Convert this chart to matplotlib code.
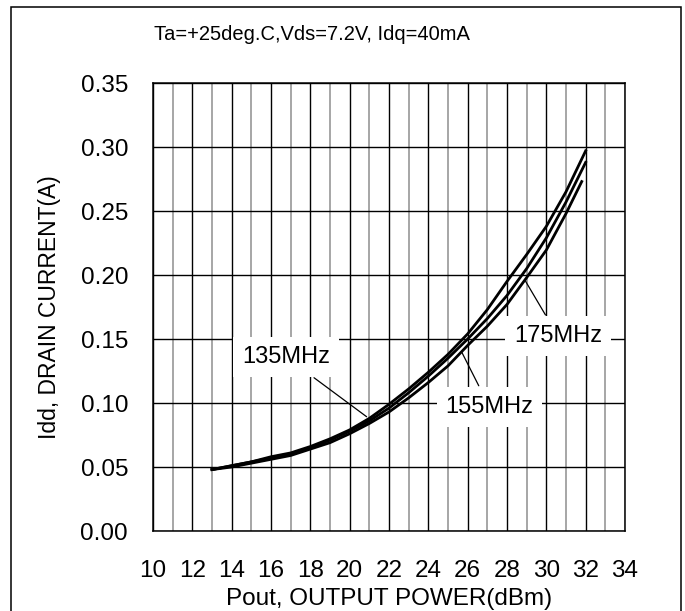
import matplotlib
matplotlib.use('Agg')
import matplotlib.pyplot as plt
from matplotlib.patches import Rectangle

plt.rcParams['font.family'] = ['Liberation Sans', 'DejaVu Sans']

# Pout (dBm)
pout = [13, 14, 15, 16, 17, 18, 19, 20, 21, 22, 23, 24, 25, 26, 27, 28, 29, 30, 31, 32]
pout_175 = [13, 14, 15, 16, 17, 18, 19, 20, 21, 22, 23, 24, 25, 26, 27, 28, 29, 30, 31, 31.8]

# Idd (A)
idd_135 = [0.048, 0.051, 0.054, 0.058, 0.061, 0.066, 0.072, 0.079, 0.088, 0.099,
           0.111, 0.124, 0.138, 0.154, 0.173, 0.195, 0.216, 0.238, 0.265, 0.297]
idd_155 = [0.048, 0.051, 0.054, 0.057, 0.060, 0.065, 0.071, 0.078, 0.086, 0.096,
           0.108, 0.121, 0.135, 0.150, 0.166, 0.184, 0.205, 0.229, 0.257, 0.288]
idd_175 = [0.048, 0.050, 0.053, 0.056, 0.059, 0.064, 0.069, 0.076, 0.084, 0.093,
           0.104, 0.116, 0.129, 0.145, 0.160, 0.177, 0.198, 0.2195, 0.248, 0.273]

x_ticks = list(range(10, 35, 2))
y_ticks = [0.00, 0.05, 0.10, 0.15, 0.20, 0.25, 0.30, 0.35]

fig = plt.figure(figsize=(6.85, 6.11), dpi=100)
ax = fig.add_axes([153 / 685, 1 - 531 / 611, 472 / 685, 448 / 611])

ax.plot(pout, idd_135, color='black', lw=2, zorder=3)
ax.plot(pout, idd_155, color='black', lw=2, zorder=3)
ax.plot(pout_175, idd_175, color='black', lw=2, zorder=3)

ax.set_xlim(10, 34)
ax.set_ylim(0, 0.35)
ax.set_xticks(x_ticks)
ax.set_xticks(range(11, 34, 2), minor=True)
ax.set_yticks(y_ticks)
ax.set_yticklabels(['%.2f' % v for v in y_ticks])
ax.tick_params(which='both', length=0, labelsize=17.5)
ax.tick_params(axis='x', pad=21)
ax.tick_params(axis='y', pad=18)

ax.grid(which='major', color='black', lw=1.0, zorder=1)
ax.grid(which='minor', axis='x', color='#a6a6a6', lw=1.4, zorder=0)
ax.set_axisbelow(True)
for s in ax.spines.values():
    s.set_linewidth(1.1)

ax.set_xlabel('Pout, OUTPUT POWER(dBm)', fontsize=17.5, labelpad=4)
ax.set_ylabel('Idd, DRAIN CURRENT(A)', fontsize=16.5, labelpad=14)

box = dict(boxstyle='square,pad=0.38', fc='white', ec='none')
leader = dict(arrowstyle='-', color='black', lw=0.9, shrinkA=1, shrinkB=0)
ax.annotate('135MHz', xy=(20.86, 0.0893), xytext=(16.76, 0.136),
            fontsize=17, ha='center', va='center', bbox=box, arrowprops=leader, zorder=4)
ax.annotate('155MHz', xy=(25.69, 0.140), xytext=(27.11, 0.0969),
            fontsize=17, ha='center', va='center', bbox=box, arrowprops=leader, zorder=4)
ax.annotate('175MHz', xy=(28.91, 0.196), xytext=(30.59, 0.1523),
            fontsize=17, ha='center', va='center', bbox=box, arrowprops=leader, zorder=4)

fig.text(312 / 685, 1 - 35 / 611, 'Ta=+25deg.C,Vds=7.2V, Idq=40mA',
         fontsize=14.5, ha='center', va='center')

# outer frame (open at the bottom edge of the image)
fig.add_artist(Rectangle((11 / 685, -0.1), 670 / 685, 1.1 - 7 / 611,
                         transform=fig.transFigure, fill=False, ec='black', lw=1.1))

fig.savefig('out.png', dpi=100)
